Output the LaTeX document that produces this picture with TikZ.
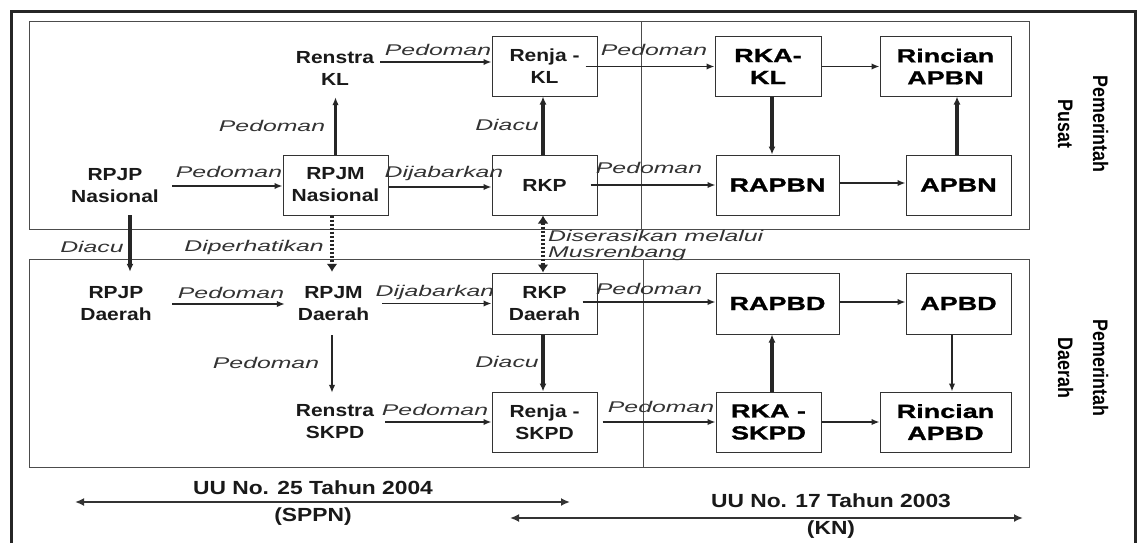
\documentclass[tikz,border=0pt]{standalone}
\usepackage{fontspec}
\setmainfont{Liberation Sans}
\newfontfamily\smbf{Liberation Sans}[FakeStretch=1.2]
\newfontfamily\bgbf{Liberation Sans}[FakeStretch=1.42,FakeBold=1.2]
\newfontfamily\itf{Liberation Sans}[FakeStretch=1.6]
\newfontfamily\uuf{Liberation Sans}[FakeStretch=1.2]
\newfontfamily\sidef{Liberation Sans}[FakeStretch=0.85]
\usetikzlibrary{arrows.meta}
\begin{document}
\begin{tikzpicture}[x=1pt,y=-1pt,
  sfont/.style={font=\smbf\bfseries\fontsize{17.5}{22}\selectfont},
  bfont/.style={font=\bgbf\bfseries\fontsize{19}{22}\selectfont},
  stxt/.style={sfont, align=center, inner sep=0pt, text=black!90},
  sbox/.style={stxt, draw=black!80, line width=1pt},
  bbox/.style={bfont, align=center, inner sep=0pt, draw=black!80, line width=1pt, text=black},
  lbl/.style={font=\itf\itshape\fontsize{15.5}{16}\selectfont, text=black!80, inner sep=0pt},
  uu/.style={font=\uuf\bfseries\fontsize{19}{27}\selectfont, align=center, inner sep=0pt, text=black!90},
  side/.style={font=\sidef\bfseries\fontsize{21}{35}\selectfont, align=center, inner sep=0pt, rotate=-90},
  arr/.style={line width=1.8pt, draw=black!85, -{Latex[length=8pt,width=6.5pt]}},
  tarr/.style={line width=3.2pt, draw=black!85, -{Latex[length=8pt,width=7pt]}},
  marr/.style={line width=2.4pt, draw=black!85, -{Latex[length=8pt,width=6.5pt]}},
  dots/.style={line width=3.4pt, draw=black!85, dash pattern=on 2pt off 2pt, -{Latex[length=8pt,width=11pt]}},
  barr/.style={line width=2.8pt, draw=black!80, {Latex[length=9pt,width=8pt]}-{Latex[length=9pt,width=8pt]}},
  panel/.style={draw=black!70, line width=1pt}
]
\useasboundingbox (0,0) rectangle (1139,543);
\fill[white] (0,0) rectangle (1139,543);
% outer frame
\draw[line width=3pt, black!85] (11.5,543) -- (11.5,12) -- (1135.5,12) -- (1135.5,543);
% panels
\draw[panel] (29,22) rectangle (1029,229);
\draw[panel] (29,259) rectangle (1029,467);
\draw[panel] (641,22) -- (641,229);
\draw[panel] (643,259) -- (643,467);

% top panel nodes
\node[stxt, minimum width=90pt, minimum height=58pt] (renstrakl) at (335,68) {Renstra\\KL};
\node[sbox, minimum width=105pt, minimum height=59pt] (renjakl) at (544.5,66.5) {Renja -\\KL};
\node[bbox, minimum width=106pt, minimum height=59pt] (rkakl) at (768,66.5) {RKA-\\KL};
\node[bbox, minimum width=131pt, minimum height=59pt] (rincianapbn) at (945.5,66.5) {Rincian\\APBN};
\node[stxt, minimum width=114pt, minimum height=58pt] (rpjpn) at (115,186) {RPJP\\Nasional};
\node[sbox, minimum width=105pt, minimum height=60pt] (rpjmn) at (335.5,185) {RPJM\\Nasional};
\node[sbox, minimum width=105pt, minimum height=60pt] (rkp) at (544.5,185) {RKP};
\node[bbox, minimum width=123pt, minimum height=60pt] (rapbn) at (777.5,185) {RAPBN};
\node[bbox, minimum width=105pt, minimum height=60pt] (apbn) at (958.5,185) {APBN};

% lower panel nodes
\node[stxt, minimum width=112pt, minimum height=64pt] (rpjpd) at (116,304) {RPJP\\Daerah};
\node[stxt, minimum width=97pt, minimum height=63pt] (rpjmd) at (333.5,303.5) {RPJM\\Daerah};
\node[sbox, minimum width=105pt, minimum height=61pt] (rkpd) at (544.5,303.5) {RKP\\Daerah};
\node[bbox, minimum width=123pt, minimum height=61pt] (rapbd) at (777.5,303.5) {RAPBD};
\node[bbox, minimum width=105pt, minimum height=61pt] (apbd) at (958.5,303.5) {APBD};
\node[stxt, minimum width=100pt, minimum height=58pt] (renstraskpd) at (335,422) {Renstra\\SKPD};
\node[sbox, minimum width=105pt, minimum height=60pt] (renjaskpd) at (544.5,422) {Renja -\\SKPD};
\node[bbox, minimum width=105pt, minimum height=60pt] (rkaskpd) at (768.5,422) {RKA -\\SKPD};
\node[bbox, minimum width=131pt, minimum height=60pt] (rincianapbd) at (945.5,422) {Rincian\\APBD};

% side labels
\node[side] (pusat) at (1083,124) {Pemerintah\\Pusat};
\node[side] (daerah) at (1083,368) {Pemerintah\\Daerah};

% connectors, top
\draw[arr] (rpjpn.east) -- (rpjpn.east -| rpjmn.west);
\draw[marr] (rpjmn.north) -- (rpjmn.north |- renstrakl.south);
\draw[marr] ([yshift=6pt]renstrakl.east) -- ([yshift=4.5pt]renjakl.west);
\draw[arr] ([xshift=-12pt]renjakl.east) -- (rkakl.west);
\draw[tarr] ([xshift=-1.5pt]rkp.north) -- ([xshift=-1.5pt]renjakl.south);
\draw[arr] ([yshift=-2pt]rpjmn.east) -- ([yshift=-2pt]rkp.west);
\draw[arr] ([xshift=-7pt]rkp.east) -- (rapbn.west);
\draw[arr] (rkakl.east) -- (rincianapbn.west);
\draw[tarr] ([xshift=4pt]rkakl.south) -- ([xshift=4pt]rkakl.south |- rapbn.north);
\draw[arr] ([yshift=2pt]rapbn.east) -- ([yshift=2pt]apbn.west);
\draw[tarr] ([xshift=-1.5pt]apbn.north) -- ([xshift=-1.5pt]apbn.north |- rincianapbn.south);

% connectors between panels
\draw[tarr] ([xshift=15pt]rpjpn.south) -- ([xshift=15pt]rpjpn.south |- rpjpd.north);
\draw[dots] ([xshift=-3.5pt]rpjmn.south) -- ([xshift=-3.5pt]rpjmn.south |- rpjmd.north);
\draw[dots, {Latex[length=8pt,width=11pt]}-{Latex[length=8pt,width=11pt]}] ([xshift=-1.5pt]rkp.south) -- ([xshift=-1.5pt]rkpd.north);

% connectors, lower
\draw[marr] (rpjpd.east) -- (rpjpd.east -| rpjmd.west);
\draw[arr] (rpjmd.east) -- (rpjmd.east -| rkpd.west);
\draw[arr] ([xshift=-1.5pt]rpjmd.south) -- ([xshift=-1.5pt]rpjmd.south |- renstraskpd.north);
\draw[arr] (renstraskpd.east) -- (renjaskpd.west);
\draw[tarr] ([xshift=-1.5pt]rkpd.south) -- ([xshift=-1.5pt]renjaskpd.north);
\draw[arr] ([xshift=-15pt,yshift=1.5pt]rkpd.east) -- ([yshift=1.5pt]rapbd.west);
\draw[arr] ([xshift=5pt]renjaskpd.east) -- (rkaskpd.west);
\draw[tarr] ([xshift=3.5pt]rkaskpd.north) -- ([xshift=3.5pt]rkaskpd.north |- rapbd.south);
\draw[arr] ([yshift=1.5pt]rapbd.east) -- ([yshift=1.5pt]apbd.west);
\draw[marr] ([xshift=-6.5pt]apbd.south) -- ([xshift=-6.5pt]apbd.south |- rincianapbd.north);
\draw[arr] (rkaskpd.east) -- (rincianapbd.west);

% connector labels
\node[lbl] (l1) at (229,172) {Pedoman};
\node[lbl] (l2) at (272,126) {Pedoman};
\node[lbl] (l3) at (438,50) {Pedoman};
\node[lbl] (l4) at (654,50) {Pedoman};
\node[lbl] (l5) at (507,125) {Diacu};
\node[lbl] (l6) at (444,173) {Dijabarkan};
\node[lbl] (l7) at (649,168) {Pedoman};
\node[lbl] (l8) at (92,247) {Diacu};
\node[lbl] (l9) at (254,247) {Diperhatikan};
\node[lbl, anchor=west, align=left] (l10) at (548,245) {Diserasikan melalui\\Musrenbang};
\node[lbl] (l11) at (231,293) {Pedoman};
\node[lbl] (l12) at (435,292) {Dijabarkan};
\node[lbl] (l13) at (266,363) {Pedoman};
\node[lbl] (l14) at (435,410) {Pedoman};
\node[lbl] (l15) at (507,362) {Diacu};
\node[lbl] (l16) at (649,289) {Pedoman};
\node[lbl] (l17) at (661,407) {Pedoman};

% laws
\coordinate (a25l) at (75,502);
\coordinate (a25r) at (570,502);
\draw[barr] (a25l) -- (a25r);
\node[uu] (uu25) at (313,503.5) {UU No. 25 Tahun 2004\\(SPPN)};
\coordinate (a17l) at (510,518);
\coordinate (a17r) at (1023,518);
\draw[barr] (a17l) -- (a17r);
\node[uu] (uu17) at (831,516.5) {UU No. 17 Tahun 2003\\(KN)};
\end{tikzpicture}
\end{document}
